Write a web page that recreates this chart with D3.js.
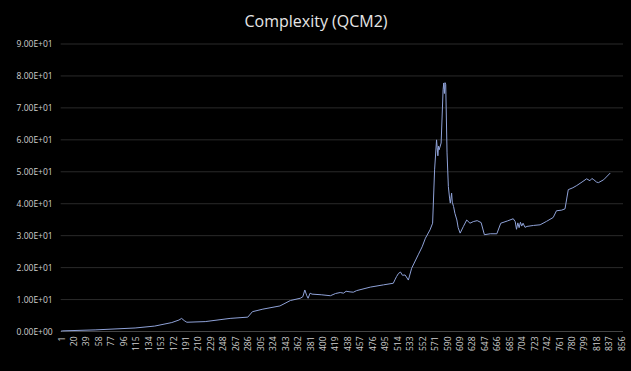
<!DOCTYPE html>
<html>
<head>
<meta charset="utf-8">
<script src="https://cdn.jsdelivr.net/npm/d3@7"></script>
<style>
  body { margin: 0; background: #000; }
  svg { display: block; }
</style>
</head>
<body>
<div id="chart"></div>
<script>
// data: sample index and QCM2 complexity value
const sampleIdx = [1, 3, 53, 114, 144, 170, 181, 185, 189, 193, 221, 259, 286, 293, 309, 335, 351, 366, 370, 373, 376, 378, 381, 384, 398, 412, 420, 427, 432, 436, 442, 447, 452, 473, 493, 508, 511, 513, 516, 519, 522, 526, 531, 536, 546, 552, 557, 564, 568, 571, 574, 575, 576, 577, 578, 581, 584, 585, 586, 587, 588, 590, 592, 594, 595, 597, 598, 600, 602, 605, 607, 610, 615, 620, 625, 630, 636, 642, 647, 656, 666, 672, 682, 691, 694, 696, 698, 700, 702, 704, 706, 709, 712, 722, 732, 742, 752, 757, 765, 770, 775, 782, 788, 796, 803, 808, 811, 814, 818, 821, 829, 839];
const complexity = [0.1, 0.2, 0.5, 1.1, 1.7, 2.8, 3.6, 4.1, 3.4, 2.9, 3.1, 4.1, 4.5, 6.2, 7.0, 8.0, 9.7, 10.4, 10.9, 13.0, 11.2, 10.4, 12.0, 11.7, 11.5, 11.2, 11.9, 12.2, 12.0, 12.6, 12.4, 12.3, 12.8, 13.9, 14.6, 15.1, 16.4, 17.2, 18.2, 18.6, 17.6, 17.7, 16.1, 19.8, 24.0, 26.5, 29.2, 31.8, 33.9, 50.6, 60.0, 57.5, 55.0, 58.0, 56.9, 59.0, 75.7, 77.8, 74.5, 77.9, 77.3, 55.9, 45.4, 41.5, 40.2, 43.3, 40.5, 39.1, 37.0, 34.9, 32.5, 30.8, 32.9, 34.9, 33.9, 34.4, 34.7, 34.1, 30.3, 30.6, 30.6, 33.9, 34.6, 35.3, 34.4, 32.0, 34.0, 32.5, 34.2, 33.0, 33.9, 32.6, 32.9, 33.2, 33.4, 34.5, 35.7, 37.8, 38.0, 38.4, 44.4, 45.0, 45.7, 46.8, 47.8, 47.2, 47.9, 47.5, 46.8, 46.6, 47.5, 49.6];

// category axis
const nCategories = 858;
const tickLabels = d3.range(1, 857, 19);
const yTicks = d3.range(0, 91, 10);

const width = 631;
const height = 371;
const plotLeft = 60.7, plotRight = 623, plotTop = 44, plotBottom = 331.5;

const svg = d3.select("#chart")
  .append("svg")
  .attr("width", width)
  .attr("height", height)
  .style("background", "#000");

// title
svg.append("text")
  .attr("x", 316)
  .attr("y", 27)
  .attr("text-anchor", "middle")
  .attr("fill", "#e6e6e6")
  .style("font-family", "'Open Sans', sans-serif")
  .style("font-size", "16px")
  .text("Complexity (QCM2)");

let xScale = d3.scaleLinear()
  .domain([0.5, nCategories + 0.5])
  .range([plotLeft, plotRight]);
let yScale = d3.scaleLinear()
  .domain([0, 90])
  .range([plotBottom, plotTop]);

// horizontal gridlines
svg.append("g")
  .selectAll("line")
  .data(yTicks.slice(1))
  .enter()
  .append("line")
  .attr("x1", plotLeft)
  .attr("x2", plotRight)
  .attr("y1", d => yScale(d))
  .attr("y2", d => yScale(d))
  .attr("stroke", "#2a2a2a")
  .attr("stroke-width", 1);

// Excel style scientific labels
function sci(d) {
  if (d === 0) return "0.00E+00";
  let e = Math.floor(Math.log10(d));
  let m = d / Math.pow(10, e);
  return m.toFixed(2) + "E+" + String(e).padStart(2, "0");
}

let yAxis = d3.axisLeft(yScale)
  .tickValues(yTicks)
  .tickSize(0)
  .tickPadding(8)
  .tickFormat(sci);

let gy = svg.append("g")
  .attr("transform", "translate(" + plotLeft + ",0)")
  .call(yAxis);
gy.select(".domain").remove();
gy.selectAll("text")
  .attr("fill", "#d0d0d0")
  .style("font-family", "'Open Sans', sans-serif")
  .style("font-size", "8.5px");

// x axis (category labels, rotated)
let xAxis = d3.axisBottom(xScale)
  .tickValues(tickLabels)
  .tickSize(0)
  .tickFormat(d3.format("d"));

let gx = svg.append("g")
  .attr("transform", "translate(0," + plotBottom + ")")
  .call(xAxis);
gx.select(".domain")
  .attr("stroke", "#444")
  .attr("d", "M" + plotLeft + ",0H" + plotRight);
gx.selectAll("text")
  .attr("fill", "#d0d0d0")
  .style("font-family", "'Open Sans', sans-serif")
  .style("font-size", "8.5px")
  .attr("text-anchor", "end")
  .attr("transform", "rotate(-90)")
  .attr("x", -5)
  .attr("y", 0)
  .attr("dy", "0.35em");

// the line
let points = sampleIdx.map((d, i) => [d, complexity[i]]);
let line = d3.line()
  .x(d => xScale(d[0]))
  .y(d => yScale(d[1]));

svg.append("path")
  .datum(points)
  .attr("d", line)
  .attr("fill", "none")
  .attr("stroke", "#8fa2d8")
  .attr("stroke-width", 1)
  .attr("stroke-linejoin", "round");
</script>
</body>
</html>
